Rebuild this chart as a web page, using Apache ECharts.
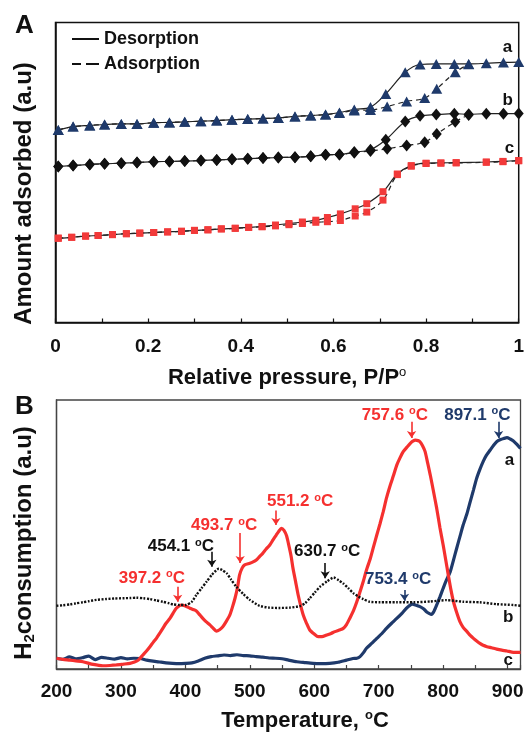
<!DOCTYPE html>
<html><head><meta charset="utf-8">
<script src="https://cdn.jsdelivr.net/npm/echarts@6/dist/echarts.min.js"></script>
<style>html,body{margin:0;padding:0;background:#fff}#c{width:527px;height:733px}</style>
</head><body><div id="c"></div>
<script>
// ---------- Panel A: N2 isotherms ----------
const triLowP = [0.006,0.038,0.074,0.106,0.142,0.176,0.212,0.246,0.279,0.314,0.348,0.381,0.415,0.448,0.481,0.517,0.551,0.583,0.613,0.645];
const aDesP = triLowP.concat([0.68,0.713,0.755,0.787,0.822,0.861,0.892,0.93,0.967,1.0]);
const aDesV = [64.2,65.3,65.7,66.0,66.2,66.2,66.6,66.7,66.9,67.1,67.3,67.6,67.8,68.0,68.2,68.7,69.0,69.3,70.0,71.0,71.8,76.2,83.4,86.0,86.2,86.2,86.2,86.4,86.7,86.8];
const aAdsP = triLowP.concat([0.68,0.716,0.758,0.797,0.823,0.863,0.892]);
const aAdsV = [64.2,65.3,65.7,66.0,66.2,66.2,66.6,66.7,66.9,67.1,67.3,67.6,67.8,68.0,68.2,68.7,69.0,69.3,69.8,70.7,70.8,72.0,73.7,74.8,77.9,83.4,86.1];
const bDesP = aDesP;
const bDesV = [52.0,52.3,52.7,52.9,53.1,53.3,53.6,53.7,53.8,54.0,54.2,54.4,54.6,54.8,55.0,55.1,55.4,55.9,56.0,56.8,57.6,60.9,67.0,68.9,69.3,69.6,69.4,69.6,69.6,69.7];
const bAdsP = aAdsP;
const bAdsV = [52.0,52.3,52.7,52.9,53.1,53.3,53.6,53.7,53.8,54.0,54.2,54.4,54.6,54.8,55.0,55.1,55.4,55.9,56.0,56.6,57.2,57.9,59.0,60.1,62.8,66.9,69.2];
const cP = [0.006,0.035,0.065,0.092,0.123,0.153,0.182,0.212,0.242,0.272,0.3,0.329,0.358,0.388,0.417,0.446,0.475,0.504,0.533,0.562,0.587,0.615,0.647,0.672,0.707,0.738,0.768,0.8,0.832,0.865,0.93,0.966,1.0];
const cDesV = [28.1,28.4,28.8,29.0,29.3,29.6,29.8,30.0,30.2,30.4,30.7,30.9,31.2,31.4,31.7,32.0,32.5,33.0,33.5,34.1,35.0,36.2,37.9,39.6,43.6,49.5,52.3,53.1,53.2,53.3,53.5,53.7,54.0];
const cAdsV = [28.1,28.4,28.8,29.0,29.3,29.6,29.8,30.0,30.2,30.4,30.7,30.9,31.2,31.4,31.7,31.9,32.2,32.6,33.0,33.4,33.6,34.0,35.5,36.8,40.8,49.3,52.1,53.0,53.1,53.2,53.4,53.6,53.9];
const isoLetters = ['a','b','c'];
const isoLetterP = [0.976,0.976,0.98];
const isoLetterV = [91.7,74.0,58.0];

// ---------- Panel B: H2-TPR ----------
const tprAT = [200,210,220,230,240,250,260,270,280,290,300,310,320,330,340,350,360,370,380,390,400,410,420,430,440,450,460,470,480,490,500,510,520,530,540,550,560,573,585,598,610,624,637,650,660,666,671,676,681,689,697,705,712,720,728,736,743,752,757,764,770,774,778,782,786,790,795,800,805,811,816,821,826,831,837,842,847,852,857,862,867,873,878,883,889,894,899,904,909,914,920];
const tprAV = [4.0,3.6,4.5,3.8,4.2,4.8,3.5,4.3,4.0,3.7,4.2,3.8,4.0,3.9,3.3,2.9,2.6,2.3,2.1,2.0,2.1,2.3,3.0,4.0,4.6,4.9,5.2,5.0,5.3,5.0,4.9,4.6,4.4,4.1,4.0,3.8,3.3,2.7,2.4,2.1,2.0,2.1,2.5,3.3,3.9,4.0,4.6,6.0,7.7,9.5,11.4,13.2,15.1,17.0,18.8,20.7,22.6,24.1,23.8,23.2,22.3,21.3,20.7,20.3,21.6,23.8,26.8,30.0,33.0,36.2,40.5,44.9,49.2,53.5,57.8,62.2,66.5,70.9,74.2,77.1,79.4,81.4,83.1,84.5,85.3,85.7,86.0,85.5,84.8,83.6,82.0];
const tprBT = [200,210,221,230,241,250,262,277,290,303,315,324,335,345,355,365,375,381,391,401,410,417,425,433,441,452,457,464,471,479,490,500,515,530,545,562,578,586,593,601,609,620,630,638,645,653,661,668,676,686,702,728,754,780,805,831,857,883,909,920];
const tprBV = [23.5,23.7,24.0,24.4,24.8,25.2,25.7,26.0,26.2,26.3,26.4,26.5,26.3,26.0,25.5,25.0,24.4,24.0,23.8,23.8,25.0,27.5,30.0,32.5,35.0,37.3,36.8,35.6,33.2,30.6,27.8,25.7,23.5,22.8,22.7,22.8,23.4,24.5,26.3,28.5,30.6,32.6,34.0,33.0,31.8,30.0,28.1,27.0,26.0,25.0,24.8,24.8,24.8,25.1,25.6,25.0,24.8,24.1,23.8,23.5];
const tprCT = [200,210,221,230,241,257,272,283,293,304,314,321,327,334,340,345,350,355,360,365,370,376,381,386,394,400,407,412,417,422,427,432,438,443,448,453,458,463,469,473,477,481,484,488,492,500,505,510,515,520,525,531,536,541,545,549,553,557,560,564,567,571,575,579,583,588,593,600,606,612,619,626,632,639,645,650,655,661,666,671,676,681,687,692,697,702,707,712,718,723,728,733,738,744,749,753,757,761,764,768,772,776,780,785,790,795,800,804,808,812,816,821,826,831,837,842,847,852,857,862,868,875,883,891,899,909,920];
const tprCV = [4.0,3.6,3.3,3.0,2.7,1.7,1.2,1.3,1.5,1.8,2.1,2.6,3.3,5.2,6.8,8.3,9.9,11.4,13.2,15.1,17.0,18.8,20.8,22.6,23.8,23.4,22.6,22.1,21.6,20.2,18.8,17.6,16.4,15.2,14.1,14.6,15.7,17.5,20.1,23.0,26.3,30.5,34.9,37.5,38.7,39.3,39.8,40.5,41.8,43.0,44.5,46.1,48.0,49.8,51.2,52.3,51.5,49.5,46.5,42.0,37.4,32.5,27.5,23.5,20.0,17.0,14.5,13.0,12.0,12.0,12.6,13.2,13.9,14.5,15.1,16.5,18.8,21.8,25.0,28.7,32.5,36.8,41.1,45.5,49.8,54.0,58.5,63.5,68.4,72.0,75.8,78.5,80.8,82.5,83.9,84.7,85.1,84.9,84.5,83.0,80.8,76.5,72.1,66.0,59.7,52.5,46.1,40.5,34.9,29.5,25.0,21.0,17.6,15.5,13.9,12.5,11.4,10.4,9.5,8.8,8.3,7.9,7.4,7.0,6.7,6.2,6.2];
// peak annotations (series: 0=a, 1=b, 2=c)
const peakText   = ['397.2','454.1','493.7','551.2','630.7','757.6','753.4','897.1'];
const peakSeries = [2,1,2,2,1,2,0,0];
const arrowT     = [388,441,485,540.5,617,751,740,886];
const arrowFrom  = [30.6,43.6,50.6,58.9,39.4,91.9,29.4,91.9];
const arrowTo    = [25.0,38.0,39.4,53.5,33.7,85.9,25.4,85.9];
const labelT     = [348,393,460,578,620,725,730,853];
const labelV     = [33.8,45.5,53.3,62.2,43.6,94.4,33.2,94.4];
const tprLetterT = [903,901,901];
const tprLetterV = [77.7,19.4,3.3];

// ---------- styling ----------
const FONT = '"Liberation Sans", Arial, Helvetica, sans-serif';
const NAVY = '#1f3a6b', RED = '#f5302f', BLACK = '#111';
const isoColors = [NAVY, BLACK, '#f23a3a'];
const tprColors = [NAVY, BLACK, RED];
const pairs = (X, Y) => X.map((x, i) => [x, Y[i]]);

function letterPoint(txt, x, y, color) {
  return { coord: [x, y], symbol: 'rect', symbolSize: 1, itemStyle: { color: 'rgba(0,0,0,0)' },
    label: { show: true, position: 'inside', formatter: txt, color: color, fontSize: 17, fontWeight: 'bold', fontFamily: FONT } };
}

function isoSeries(name, P, V, sym, size, color, dashed, letterIdx) {
  const s = {
    name: name, type: 'line', xAxisIndex: 0, yAxisIndex: 0, data: pairs(P, V),
    smooth: 0.35, symbol: sym, symbolSize: size, showAllSymbol: true,
    itemStyle: { color: color },
    lineStyle: { color: '#222', width: 1.2, type: dashed ? [5, 4] : 'solid' },
    z: dashed ? 2 : 3
  };
  if (letterIdx != null) {
    s.markPoint = { silent: true, animation: false,
      data: [letterPoint(isoLetters[letterIdx], isoLetterP[letterIdx], isoLetterV[letterIdx], BLACK)] };
  }
  return s;
}

function tprSeries(idx, T, V, dotted) {
  const color = tprColors[idx];
  const lines = [], points = [];
  peakSeries.forEach((s, k) => {
    if (s !== idx) return;
    lines.push([{ coord: [arrowT[k], arrowFrom[k]] }, { coord: [arrowT[k], arrowTo[k]] }]);
    points.push({ coord: [labelT[k], labelV[k]], symbol: 'rect', symbolSize: 1, itemStyle: { color: 'rgba(0,0,0,0)' },
      label: { show: true, position: 'inside', formatter: '{n|' + peakText[k] + ' }{s|o}{n|C}',
        rich: { n: { fontSize: 17, fontWeight: 'bold', color: color, fontFamily: FONT, lineHeight: 19 },
                s: { fontSize: 11, fontWeight: 'bold', color: color, fontFamily: FONT, lineHeight: 11, verticalAlign: 'top' } } } });
  });
  points.push(letterPoint(['a','b','c'][idx], tprLetterT[idx], tprLetterV[idx], BLACK));
  return {
    name: 'tpr-' + idx, type: 'line', xAxisIndex: 1, yAxisIndex: 1, data: pairs(T, V),
    symbol: 'none', smooth: 0.2,
    lineStyle: { color: color, width: dotted ? 2.4 : 3.2, type: dotted ? [2, 1.5] : 'solid' },
    markLine: { silent: true, animation: false, symbol: ['none', 'arrow'], symbolSize: 7,
      label: { show: false }, lineStyle: { color: color, width: 1.6, type: 'solid' }, data: lines },
    markPoint: { silent: true, animation: false, data: points },
    z: dotted ? 4 : 3
  };
}

const tickLabel = { fontSize: 19, fontWeight: 'bold', color: BLACK, fontFamily: FONT };

const option = {
  animation: false,
  backgroundColor: '#fff',
  grid: [
    { left: 55.5, top: 22.5, width: 465, height: 300, show: true, borderColor: '#111', borderWidth: 1.5 },
    { left: 56.5, top: 400, width: 464, height: 270, show: true, borderColor: '#444', borderWidth: 1.3 }
  ],
  legend: {
    data: [
      { name: 'Desorption', icon: 'path://M0,0H27V2H0Z' },
      { name: 'Adsorption', icon: 'path://M0,0H9V2H0Z M14,0H27V2H14Z' }
    ],
    orient: 'vertical', left: 67, top: 25,
    itemWidth: 27, itemHeight: 2, itemGap: 7,
    itemStyle: { color: BLACK, borderWidth: 0 },
    textStyle: { fontSize: 18, fontWeight: 'bold', color: BLACK, fontFamily: FONT }
  },
  xAxis: [
    { type: 'value', gridIndex: 0, min: 0, max: 1, interval: 0.1,
      axisLine: { show: true, onZero: false, lineStyle: { color: '#111', width: 1.5 } },
      axisTick: { show: true, inside: true, length: 4, lineStyle: { color: '#111', width: 1.2 } },
      axisLabel: Object.assign({ margin: 15, formatter: v => { const k = Math.round(v * 10); if (k % 2) return ''; return k === 0 ? '0' : (k === 10 ? '1' : (k / 10).toFixed(1)); } }, tickLabel),
      splitLine: { show: false },
      name: '{t|Relative pressure, P/P}{s|o}', nameLocation: 'middle', nameGap: 43,
      nameTextStyle: { rich: { t: { fontSize: 22, fontWeight: 'bold', color: BLACK, fontFamily: FONT, lineHeight: 24 },
                               s: { fontSize: 13, color: BLACK, fontFamily: FONT, lineHeight: 13, verticalAlign: 'top' } } } },
    { type: 'value', gridIndex: 1, min: 200, max: 920, interval: 50,
      axisLine: { show: true, onZero: false, lineStyle: { color: '#444', width: 1.3 } },
      axisTick: { show: true, inside: true, length: 4, lineStyle: { color: '#444', width: 1.2 } },
      axisLabel: Object.assign({ margin: 13, formatter: v => (v % 100 === 0 ? String(v) : '') }, tickLabel),
      splitLine: { show: false },
      name: '{t|Temperature, }{s|o}{t|C}', nameLocation: 'middle', nameGap: 40,
      nameTextStyle: { padding: [0, 0, 0, 33], rich: { t: { fontSize: 22, fontWeight: 'bold', color: BLACK, fontFamily: FONT, lineHeight: 24 },
                               s: { fontSize: 13, fontWeight: 'bold', color: BLACK, fontFamily: FONT, lineHeight: 13, verticalAlign: 'top' } } } }
  ],
  yAxis: [
    { type: 'value', gridIndex: 0, min: 0, max: 100,
      axisLine: { show: true, onZero: false, lineStyle: { color: '#111', width: 1.5 } },
      axisTick: { show: false }, axisLabel: { show: false }, splitLine: { show: false },
      name: 'Amount adsorbed (a.u)', nameLocation: 'middle', nameRotate: 90, nameGap: 19,
      nameTextStyle: { fontSize: 24, fontWeight: 'bold', color: BLACK, fontFamily: FONT, padding: [0, 42, 0, 0] } },
    { type: 'value', gridIndex: 1, min: 0, max: 100,
      axisLine: { show: true, onZero: false, lineStyle: { color: '#444', width: 1.3 } },
      axisTick: { show: false }, axisLabel: { show: false }, splitLine: { show: false },
      name: '{t|H}{b|2}{t|consumption (a.u)}', nameLocation: 'middle', nameRotate: 90, nameGap: 19,
      nameTextStyle: { padding: [0, 17, 0, 0], rich: { t: { fontSize: 24, fontWeight: 'bold', color: BLACK, fontFamily: FONT, lineHeight: 26 },
                               b: { fontSize: 15, fontWeight: 'bold', color: BLACK, fontFamily: FONT, lineHeight: 15, verticalAlign: 'bottom' } } } }
  ],
  graphic: [
    { type: 'text', left: 15, top: 13, style: { text: 'A', font: 'bold 26px ' + FONT, fill: BLACK } },
    { type: 'text', left: 15, top: 394, style: { text: 'B', font: 'bold 26px ' + FONT, fill: BLACK } }
  ],
  series: [
    { name: 'Desorption', type: 'line', xAxisIndex: 0, yAxisIndex: 0, data: [], symbol: 'none', itemStyle: { color: BLACK }, lineStyle: { color: BLACK, width: 1.6 } },
    { name: 'Adsorption', type: 'line', xAxisIndex: 0, yAxisIndex: 0, data: [], symbol: 'none', itemStyle: { color: BLACK }, lineStyle: { color: BLACK, width: 1.6, type: [6, 4] } },
    isoSeries('a-ads', aAdsP, aAdsV, 'triangle', [11, 10], isoColors[0], true),
    isoSeries('a-des', aDesP, aDesV, 'triangle', [11, 10], isoColors[0], false, 0),
    isoSeries('b-ads', bAdsP, bAdsV, 'diamond', [10, 12], isoColors[1], true),
    isoSeries('b-des', bDesP, bDesV, 'diamond', [10, 12], isoColors[1], false, 1),
    isoSeries('c-ads', cP, cAdsV, 'rect', [7, 7], isoColors[2], true),
    isoSeries('c-des', cP, cDesV, 'rect', [7, 7], isoColors[2], false, 2),
    tprSeries(0, tprAT, tprAV, false),
    tprSeries(2, tprCT, tprCV, false),
    tprSeries(1, tprBT, tprBV, true)
  ]
};

const chart = echarts.init(document.getElementById('c'), null, { renderer: 'canvas' });
chart.setOption(option);
</script>
</body></html>
